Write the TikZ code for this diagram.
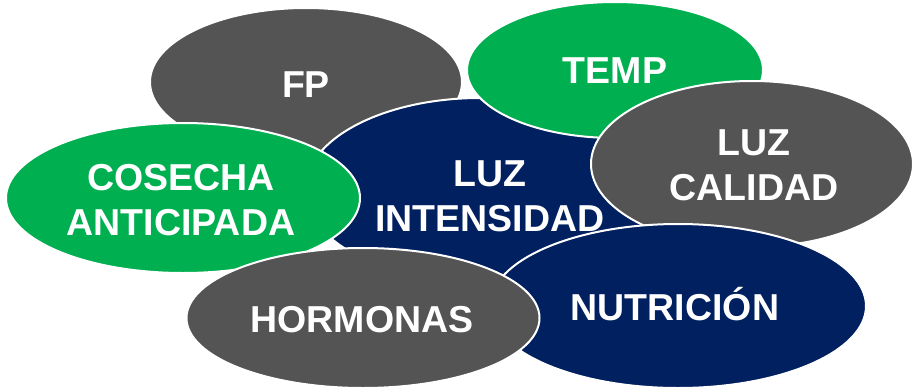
\documentclass[tikz,border=0pt]{standalone}
\usepackage{fontspec}
\setmainfont{Liberation Sans}
\usetikzlibrary{shapes.geometric}
\definecolor{bgray}{HTML}{545454}
\definecolor{bgreen}{HTML}{00AF50}
\definecolor{bnavy}{HTML}{002060}
\tikzset{
  blob/.style={ellipse, draw=white, line width=2pt, inner sep=0pt, outer sep=0pt},
  lbl/.style={text=white, font=\fontsize{37.5}{45}\selectfont\bfseries, align=center, inner sep=0pt}
}
\begin{document}
\begin{tikzpicture}[x=1pt,y=-1pt]
\useasboundingbox (0,0) rectangle (912,391);
% ellipses, back to front
\node[blob, fill=bgray,  minimum width=312pt, minimum height=148pt] (fp)         at (306,82)  {};
\node[blob, fill=bnavy,  minimum width=350pt, minimum height=184pt] (intensidad) at (480,190) {};
\node[blob, fill=bgreen, minimum width=296pt, minimum height=136pt] (temp)       at (615,70)  {};
\node[blob, fill=bgray,  minimum width=322pt, minimum height=166pt] (calidad)    at (752,164) {};
\node[blob, fill=bgreen, minimum width=354pt, minimum height=150pt] (cosecha)    at (183,198) {};
\node[blob, fill=bnavy,  minimum width=376pt, minimum height=164pt] (nutricion)  at (678,306) {};
\node[blob, fill=bgray,  minimum width=353pt, minimum height=140pt] (hormonas)   at (363,318) {};
% labels
\node[lbl, anchor=base] (tfp)   at (306,97)  {FP};
\node[lbl, anchor=base] (ttemp) at (615,83)  {TEMP};
\node[lbl] (tcal)  at (754,165) {LUZ\\CALIDAD};
\node[lbl] (tint)  at (490,196) {LUZ\\INTENSIDAD};
\node[lbl] (tcos)  at (181,200) {COSECHA\\ANTICIPADA};
\node[lbl, anchor=base] (thor)  at (362,332) {HORMONAS};
\node[lbl, anchor=base] (tnut)  at (675,320) {NUTRICIÓN};
\end{tikzpicture}
\end{document}
